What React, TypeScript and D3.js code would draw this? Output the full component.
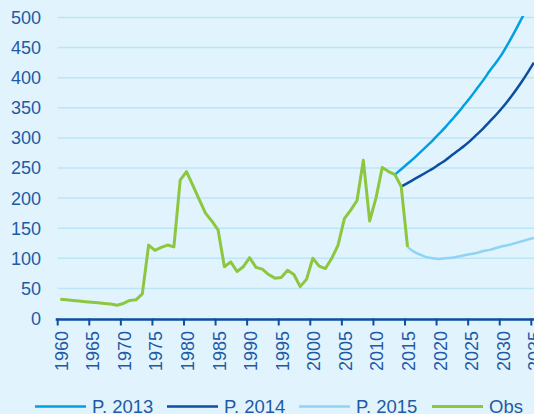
import { useEffect, useRef } from "react";
import * as d3 from "d3";

// observed values, 1960..2015
const obsYears = d3.range(1960, 2016);
const obsValues = [
  32, 31, 30, 29, 28, 27, 26, 25, 24, 22, 25, 30, 31, 41, 122, 113, 118, 122,
  119, 230, 244, 221, 198, 175, 162, 147, 86, 94, 78, 86, 101, 85, 82, 73, 67,
  68, 80, 73, 53, 65, 100, 87, 83, 100, 122, 166, 180, 196, 263, 162, 200, 251,
  244, 239, 219, 119,
];

const p2013Years = d3.range(2013, 2036);
const p2013Values = [
  239, 248, 257, 266, 276, 286, 296, 307, 318, 330, 342, 355, 368, 382, 396,
  411, 425, 440, 458, 477, 497, 516, 536,
];

const p2014Years = d3.range(2014, 2036);
const p2014Values = [
  219, 225, 231, 237, 243, 249, 256, 263, 271, 279, 287, 296, 306, 316, 327,
  338, 350, 363, 377, 392, 408, 425,
];

const p2015Years = d3.range(2015, 2036);
const p2015Values = [
  119, 111, 106, 102, 100, 99, 100, 101, 103, 105, 107, 109, 112, 114, 117,
  120, 122, 125, 128, 131, 134,
];

const yTicks = [0, 50, 100, 150, 200, 250, 300, 350, 400, 450, 500];
const xTicks = d3.range(1960, 2036, 5);

const series = [
  { name: "P. 2013", years: p2013Years, values: p2013Values, color: "#00a0e3", w: 2.5, smooth: true },
  { name: "P. 2014", years: p2014Years, values: p2014Values, color: "#0b4ea2", w: 2.5, smooth: true },
  { name: "P. 2015", years: p2015Years, values: p2015Values, color: "#8fd3f5", w: 2.5, smooth: true },
  { name: "Obs", years: obsYears, values: obsValues, color: "#8dc63f", w: 3, smooth: false },
];

const W = 534;
const H = 414;
const textColor = "#1f5aa6";
const font = "'Liberation Sans', Arial, sans-serif";

export default function App() {
  const svgRef = useRef<SVGSVGElement>(null);

  useEffect(() => {
    document.body.style.margin = "0";
    const svgEl = svgRef.current;
    if (!svgEl) return;
    const svg = d3.select(svgEl);
    svg.selectAll("*").remove();

    svg.append("rect").attr("width", W).attr("height", H).attr("fill", "#e1f4fd");

    const x = d3.scaleLinear().domain([1960, 2035]).range([57.7, 531.3]);
    const y = d3.scaleLinear().domain([0, 500]).range([318.5, 17.5]);
    const offset = 0.4; // points sit a bit past the year tick

    // grid
    svg
      .append("g")
      .selectAll("line")
      .data(yTicks.filter((d) => d > 0))
      .join("line")
      .attr("x1", x(1960))
      .attr("x2", W)
      .attr("y1", (d) => y(d))
      .attr("y2", (d) => y(d))
      .attr("stroke", "#bce5f7")
      .attr("stroke-width", 1.5);

    // y labels
    svg
      .append("g")
      .selectAll("text")
      .data(yTicks)
      .join("text")
      .attr("x", 41)
      .attr("y", (d) => y(d))
      .attr("dy", "0.36em")
      .attr("text-anchor", "end")
      .attr("fill", textColor)
      .style("font", `18px ${font}`)
      .text((d) => d);

    // lines
    svg
      .append("clipPath")
      .attr("id", "plot")
      .append("rect")
      .attr("x", x(1960))
      .attr("y", 16)
      .attr("width", W - x(1960))
      .attr("height", 310);

    const lines = svg.append("g").attr("clip-path", "url(#plot)");
    series.forEach((s) => {
      const line = d3
        .line<[number, number]>()
        .x((d) => x(d[0] + offset))
        .y((d) => y(d[1]))
        .curve(s.smooth ? d3.curveMonotoneX : d3.curveLinear);
      lines
        .append("path")
        .datum(s.years.map((yr, i) => [yr, s.values[i]] as [number, number]))
        .attr("fill", "none")
        .attr("stroke", s.color)
        .attr("stroke-width", s.w)
        .attr("stroke-linejoin", "round")
        .attr("d", line);
    });

    // x axis
    const axisColor = "#0b4ea2";
    svg
      .append("line")
      .attr("x1", x(1960) - 2)
      .attr("x2", W)
      .attr("y1", y(0) + 1)
      .attr("y2", y(0) + 1)
      .attr("stroke", axisColor)
      .attr("stroke-width", 2.5);
    svg
      .append("g")
      .selectAll("line")
      .data(xTicks)
      .join("line")
      .attr("x1", (d) => x(d))
      .attr("x2", (d) => x(d))
      .attr("y1", y(0))
      .attr("y2", y(0) + 7)
      .attr("stroke", axisColor)
      .attr("stroke-width", 2);
    svg
      .append("g")
      .selectAll("text")
      .data(xTicks)
      .join("text")
      .attr("transform", (d) => `translate(${x(d) + 10},331) rotate(-90)`)
      .attr("text-anchor", "end")
      .attr("fill", textColor)
      .style("font", `18px ${font}`)
      .text((d) => d);

    // legend
    const legendX = [35, 167, 299, 432];
    const lg = svg
      .append("g")
      .selectAll("g")
      .data(series)
      .join("g")
      .attr("transform", (_d, i) => `translate(${legendX[i]},406.5)`);
    lg.append("line")
      .attr("x1", 0)
      .attr("x2", 51)
      .attr("stroke", (d) => d.color)
      .attr("stroke-width", (d) => d.w);
    lg.append("text")
      .attr("x", 57)
      .attr("y", 6.8)
      .attr("fill", textColor)
      .style("font", `18.5px ${font}`)
      .text((d) => d.name);
  }, []);

  return <svg ref={svgRef} width={W} height={H} style={{ display: "block" }} />;
}
